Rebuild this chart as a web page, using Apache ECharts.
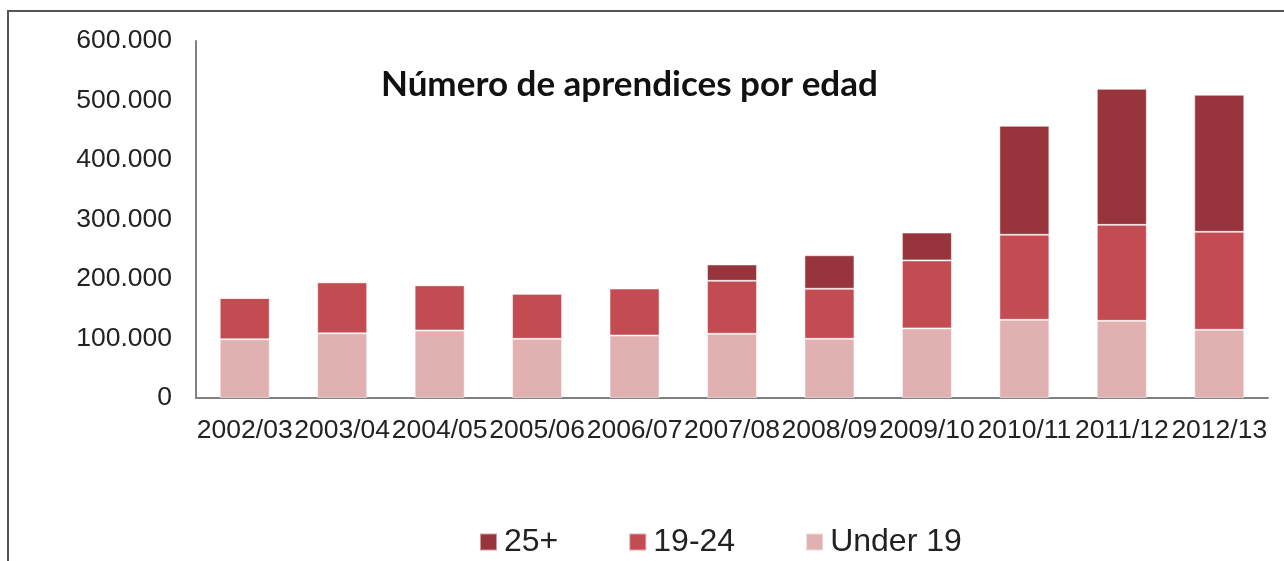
<!DOCTYPE html>
<html>
<head>
<meta charset="utf-8">
<script src="https://cdn.jsdelivr.net/npm/echarts@6/dist/echarts.min.js"></script>
<style>
    html, body { margin: 0; padding: 0; background: #fff; }
    #chart { width: 1284px; height: 561px; }
</style>
</head>
<body>
<div id="chart"></div>
<script>
// datos
var years = ['2002/03', '2003/04', '2004/05', '2005/06', '2006/07', '2007/08', '2008/09', '2009/10', '2010/11', '2011/12', '2012/13'];
var under19 = [98700, 108700, 113400, 99500, 105000, 108000, 99500, 117000, 131400, 129700, 114600];
var age1924 = [69300, 85700, 76000, 75700, 79000, 89000, 84100, 114300, 142900, 161300, 164700];
var age25 = [0, 0, 0, 0, 0, 27400, 56300, 46700, 183200, 228600, 230300];
var yTicks = [0, 100000, 200000, 300000, 400000, 500000, 600000];

var myChart = echarts.init(document.getElementById('chart'));

function fmt(v) {
    // separador de miles con punto
    return String(v).replace(/\B(?=(\d{3})+(?!\d))/g, '.');
}

var barStyle = { borderColor: 'rgba(255,255,255,0.5)', borderWidth: 1 };

var option = {
    animation: false,
    textStyle: { fontFamily: 'Liberation Sans' },
    title: {
        text: 'Número de aprendices por edad',
        left: 376,
        top: 62,
        textStyle: { fontFamily: 'Lato', fontWeight: 'bold', fontSize: 35, color: '#111' }
    },
    graphic: [{
        type: 'rect',
        shape: { x: 8, y: 11, width: 1400, height: 700 },
        style: { fill: 'none', stroke: '#555', lineWidth: 2 },
        silent: true
    }],
    legend: {
        data: ['25+', '19-24', 'Under 19'],
        top: 521,
        left: 474,
        icon: 'rect',
        itemWidth: 17,
        itemHeight: 17,
        itemGap: 70,
        textStyle: { fontSize: 32, color: '#222', padding: [0, 0, 0, 2] }
    },
    grid: { left: 196, right: 16, top: 41, bottom: 163 },
    xAxis: {
        type: 'category',
        data: years,
        axisLine: { lineStyle: { color: '#808080', width: 2 } },
        axisTick: { show: false },
        axisLabel: { interval: 0, fontSize: 26.5, color: '#222', margin: 19 }
    },
    yAxis: {
        type: 'value',
        min: yTicks[0],
        max: yTicks[yTicks.length - 1],
        interval: 100000,
        splitLine: { show: false },
        axisLine: { show: true, lineStyle: { color: '#808080', width: 2 } },
        axisTick: { show: false },
        axisLabel: { fontSize: 26.5, color: '#222', margin: 24, formatter: fmt }
    },
    series: [
        {
            name: 'Under 19', type: 'bar', stack: 'total', barWidth: 50,
            itemStyle: Object.assign({ color: '#E1B0B0' }, barStyle),
            data: under19
        },
        {
            name: '19-24', type: 'bar', stack: 'total', barWidth: 50,
            itemStyle: Object.assign({ color: '#C24C52' }, barStyle),
            data: age1924
        },
        {
            name: '25+', type: 'bar', stack: 'total', barWidth: 50,
            itemStyle: Object.assign({ color: '#97343C' }, barStyle),
            data: age25
        }
    ]
};

myChart.setOption(option);
</script>
</body>
</html>
